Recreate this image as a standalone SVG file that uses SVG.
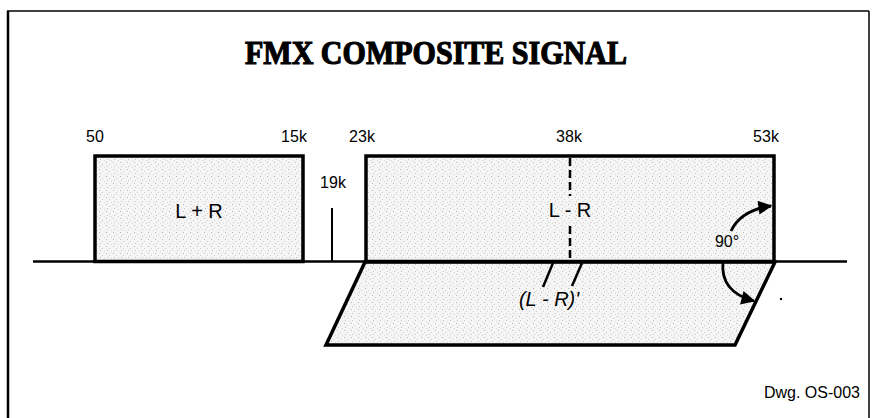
<svg xmlns="http://www.w3.org/2000/svg" width="872" height="418" viewBox="0 0 872 418">
<style>
.lbl{font-family:"Liberation Sans",Arial,sans-serif;font-size:16px;fill:#000;text-anchor:middle}
.big{font-family:"Liberation Sans",Arial,sans-serif;font-size:20px;fill:#000;text-anchor:middle}
.box{fill:url(#stip);stroke:#000;stroke-width:3.5;stroke-linejoin:miter}
.ln{stroke:#000;fill:none}
</style>
<defs>
<pattern id="stip" width="7" height="7" patternUnits="userSpaceOnUse">
<rect width="7" height="7" fill="#f5f5f5"/>
<rect x="1" y="1" width="1" height="1" fill="#b8b8b8"/>
<rect x="4" y="3" width="1" height="1" fill="#cccccc"/>
<rect x="2" y="5" width="1" height="1" fill="#c4c4c4"/>
<rect x="6" y="6" width="1" height="1" fill="#d8d8d8"/>
</pattern>
<marker id="ah" viewBox="0 0 10 10" refX="9" refY="5" markerWidth="6" markerHeight="5" markerUnits="strokeWidth" orient="auto">
<path d="M0,0 L10,5 L0,10 Z" fill="#000"/>
</marker>
</defs>
<rect width="872" height="418" fill="#fff"/>
<g id="frame">
<line class="ln" x1="7" y1="11" x2="869" y2="11" stroke-width="1.5"/>
<line class="ln" x1="8" y1="11" x2="8" y2="418" stroke-width="2.5"/>
<line class="ln" x1="869" y1="11" x2="869" y2="418" stroke-width="1.5"/>
</g>
<g id="title">
<text x="436" y="64" font-family="'Liberation Serif','Times New Roman',serif" font-weight="bold" font-size="34" text-anchor="middle" textLength="382" lengthAdjust="spacingAndGlyphs" stroke="#000" stroke-width="1.2">FMX COMPOSITE SIGNAL</text>
</g>
<g id="freq-labels">
<text class="lbl" x="95" y="142">50</text>
<text class="lbl" x="294" y="142">15k</text>
<text class="lbl" x="362" y="142">23k</text>
<text class="lbl" x="569" y="142">38k</text>
<text class="lbl" x="766" y="142">53k</text>
</g>
<g id="axis">
<line class="ln" x1="33" y1="261.5" x2="847" y2="261.5" stroke-width="2.5"/>
</g>
<g id="lminusr-prime">
<polygon class="box" points="365,262 775,262 735,345 326,345" stroke-width="4.5"/>
<line class="ln" x1="553" y1="263" x2="543" y2="287" stroke-width="2.5"/>
<line class="ln" x1="582" y1="263" x2="572" y2="286" stroke-width="2.5"/>
<text class="big" x="549" y="306" font-style="italic">(L - R)'</text>
</g>
<g id="lplusr">
<rect class="box" x="95" y="156" width="208" height="105.5"/>
<text class="big" x="199" y="218">L + R</text>
</g>
<g id="pilot">
<text class="lbl" x="333" y="188">19k</text>
<line class="ln" x1="332" y1="208" x2="332" y2="261" stroke-width="2"/>
</g>
<g id="lminusr">
<rect class="box" x="366" y="156" width="408" height="105.5"/>
<line class="ln" x1="570" y1="158" x2="570" y2="196" stroke-width="2.5" stroke-dasharray="8 4"/>
<line class="ln" x1="570" y1="226" x2="570" y2="261" stroke-width="2.5" stroke-dasharray="8 4"/>
<text class="big" x="570" y="217">L - R</text>
</g>
<g id="connectors">
<path class="ln" d="M731,231 Q741,210 771,206" stroke-width="2.8" marker-end="url(#ah)"/>
<path class="ln" d="M723,262 Q720,292 754,301" stroke-width="2.8" marker-end="url(#ah)"/>
<text class="lbl" x="727" y="247" font-size="17">90°</text>
</g>
<circle cx="781" cy="299" r="1.2" fill="#000"/>
<g id="dwg">
<text x="860" y="398" font-family="'Liberation Sans',Arial,sans-serif" font-size="16" text-anchor="end">Dwg. OS-003</text>
</g>
</svg>
